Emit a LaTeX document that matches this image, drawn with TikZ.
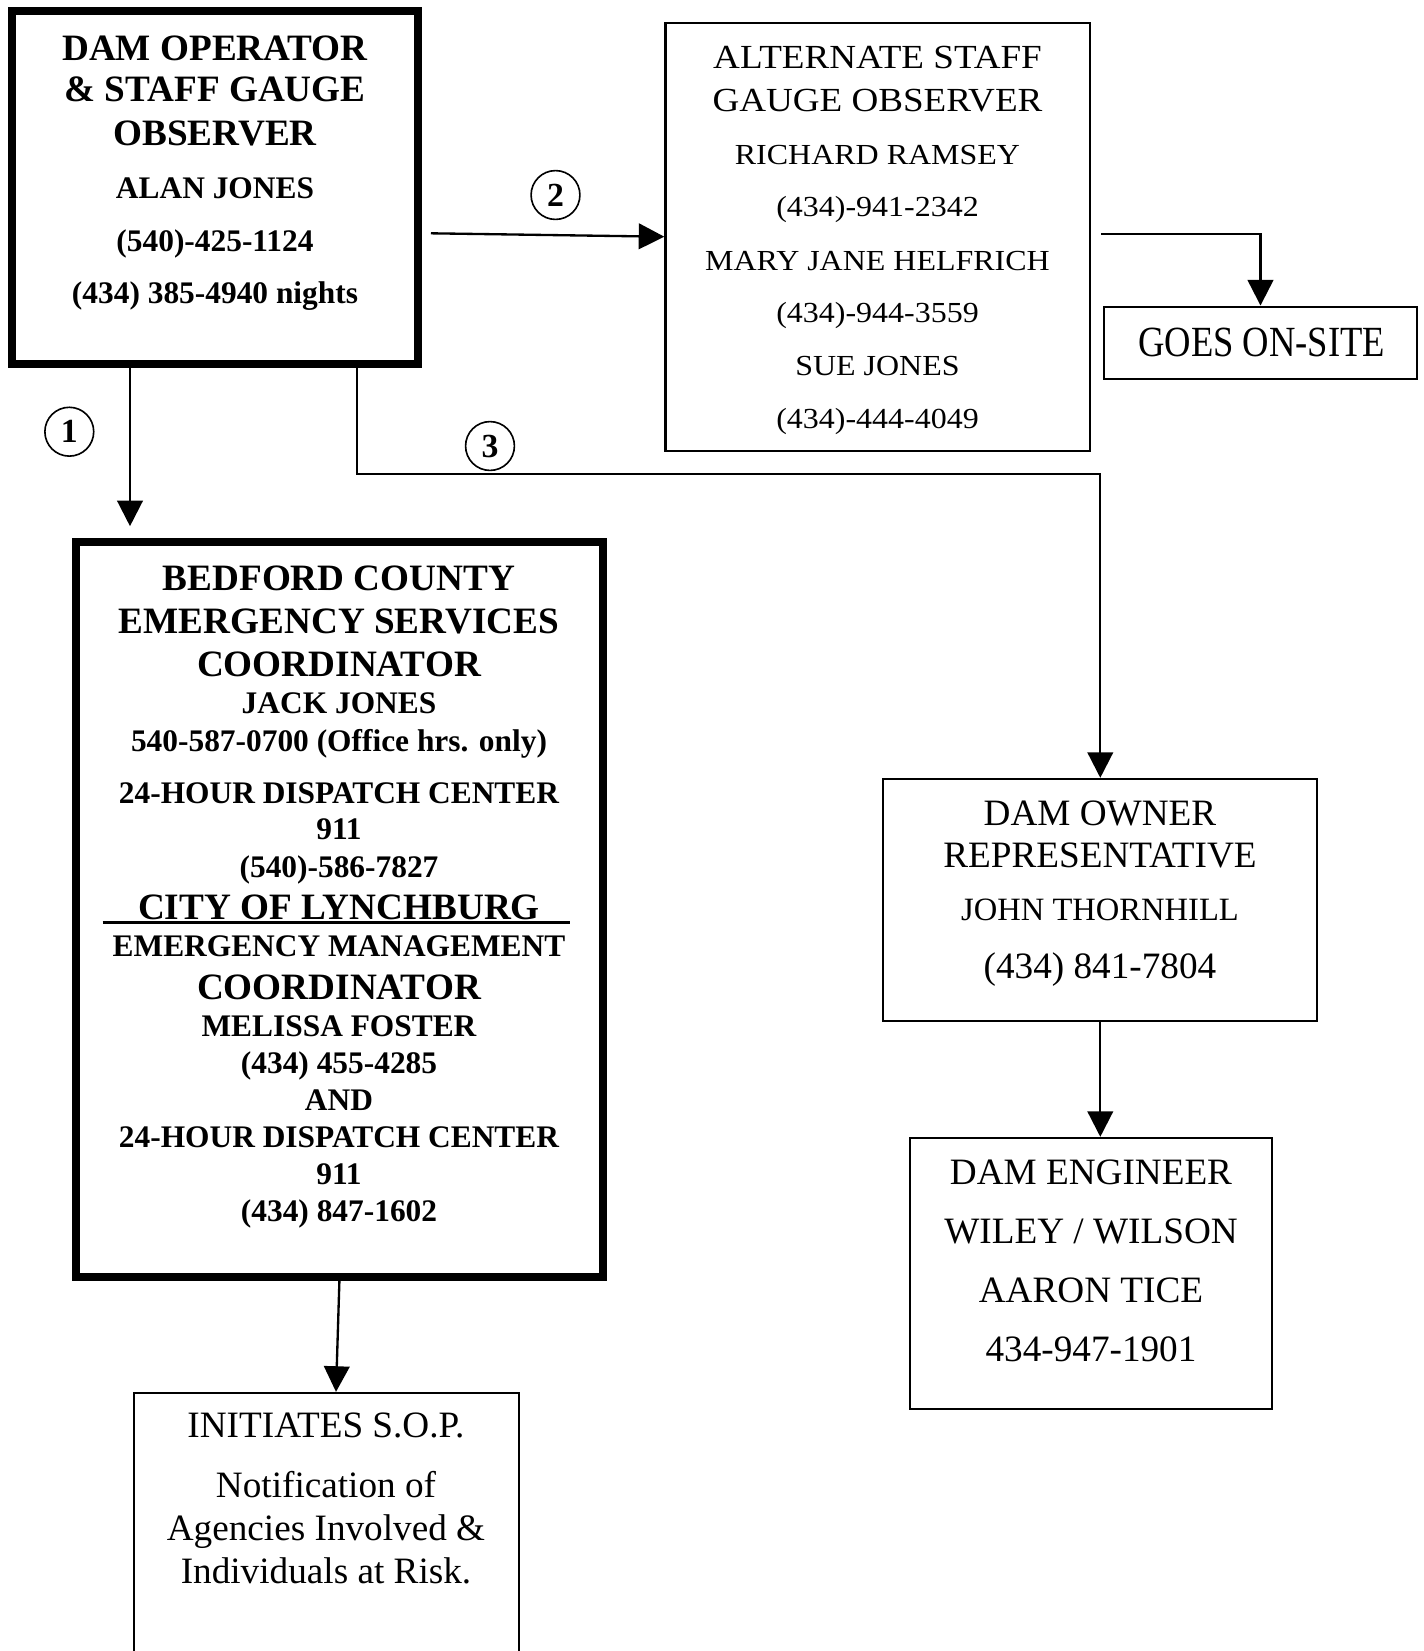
\documentclass[tikz,border=0pt]{standalone}
\usepackage{fontspec}
\setmainfont{Liberation Serif}
\newfontfamily\altserif[FakeStretch=1.1]{Liberation Serif}
\newfontfamily\siteserif[FakeStretch=0.85]{Liberation Serif}
\usetikzlibrary{arrows.meta,fit,calc}

\tikzset{every picture/.style={line width=0.75pt}}
\tikzset{
	heavy box/.style={draw, line width=3.6pt, inner sep=0pt},
	light box/.style={draw, line width=1pt, inner sep=0pt},
	call no/.style={draw, circle, line width=0.7pt, minimum size=21pt, inner sep=0pt, font=\fontsize{14.5}{17}\selectfont\bfseries},
	arr/.style={-{Triangle[length=11pt,width=11pt]}, line width=1pt},
	title b/.style={anchor=base, font=\fontsize{16}{19}\selectfont\bfseries},
	line b/.style={anchor=base, font=\fontsize{13.5}{16}\selectfont\bfseries},
	title r/.style={anchor=base, font=\fontsize{16}{19}\selectfont},
	line r/.style={anchor=base, font=\fontsize{14}{17}\selectfont},
	alt title/.style={anchor=base, font=\altserif\fontsize{14.5}{17}\selectfont},
	alt line/.style={anchor=base, font=\altserif\fontsize{12.5}{15}\selectfont},
	site text/.style={anchor=base, font=\siteserif\fontsize{18.5}{22}\selectfont}}

\begin{document}
\begin{tikzpicture}[x=0.43pt,y=0.43pt,yscale=-1,xscale=1]
	\useasboundingbox (0,0) rectangle (1424,1651);
	\clip (0,0) rectangle (1424,1651);

	%Shape: Rectangle [operator]
	\node [heavy box, fit={(11.7,11.2) (417.8,364.2)}] (operator) {};
	%Shape: Rectangle [alternate]
	\node [light box, fit={(665.5,22.7) (1090,450.7)}] (alternate) {};
	%Shape: Rectangle [on-site]
	\node [light box, fit={(1104.3,306.7) (1416.7,379.3)}] (onsite) {};
	%Shape: Rectangle [bedford]
	\node [heavy box, fit={(75.8,542) (603,1277)}] (bedford) {};
	%Shape: Rectangle [owner]
	\node [light box, fit={(883.3,779) (1317.3,1021.3)}] (owner) {};
	%Shape: Rectangle [engineer]
	\node [light box, fit={(910,1138) (1272.3,1409)}] (engineer) {};
	%Shape: Rectangle [s.o.p.]
	\node [light box, fit={(134.3,1393) (518.7,1720)}] (sop) {};

	%Circles
	\node [call no] (n1) at (69.3,431.7) {1};
	\node [call no] (n2) at (555.5,195) {2};
	\node [call no] (n3) at (490,446) {3};

	%Straight Lines [1]
	\coordinate (drop1) at (130,0);
	\draw [arr, shorten >=5pt] (drop1 |- operator.south) -- (drop1 |- bedford.north);
	%Straight Lines [2]
	\draw [arr] ($(operator.east)+(9,45.6)$) -- (alternate.west);
	%Straight Lines [3]
	\coordinate (bend3) at (356.7,474.3);
	\draw [arr] (bend3 |- operator.south) -- (bend3) -| (owner.north);
	%Straight Lines [on-site]
	\draw [arr] ($(alternate.east)+(10,-2.4)$) -| (onsite.north);
	%Straight Lines [engineer]
	\draw [arr] (owner.south) -- (owner.south |- engineer.north);
	%Straight Lines [s.o.p.]
	\draw [arr] (bedford.south) -- ($(sop.north)+(9.5,0)$);
	%Straight Lines [underline]
	\draw [line width=0.9pt] (102.7,922.5) -- (570,922.5);

	% Text Node
	\draw (215,60) node [title b] (op1) {DAM OPERATOR};
	\draw (215,101.7) node [title b] (op2) {\& STAFF GAUGE};
	\draw (215,145) node [title b] (op3) {OBSERVER};
	\draw (215,198.3) node [line b] (op4) {ALAN JONES};
	\draw (215,251.7) node [line b] (op5) {(540)-425-1124};
	\draw (215,303.5) node [line b] (op6) {(434) 385-4940 nights};

	% Text Node
	\draw (877.5,68.3) node [alt title] (alt1) {ALTERNATE STAFF};
	\draw (877.5,111.7) node [alt title] (alt2) {GAUGE OBSERVER};
	\draw (877.5,164) node [alt line] (alt3) {RICHARD RAMSEY};
	\draw (877.5,216) node [alt line] (alt4) {(434)-941-2342};
	\draw (877.5,270) node [alt line] (alt5) {MARY JANE HELFRICH};
	\draw (877.5,322.7) node [alt line] (alt6) {(434)-944-3559};
	\draw (877.5,375) node [alt line] (alt7) {SUE JONES};
	\draw (877.5,428.3) node [alt line] (alt8) {(434)-444-4049};

	% Text Node
	\draw (1261.7,356.5) node [site text] (site1) {GOES ON-SITE};

	% Text Node
	\draw (339,590.5) node [title b] (bed1) {BEDFORD COUNTY};
	\draw (339,633) node [title b] (bed2) {EMERGENCY SERVICES};
	\draw (339,676) node [title b] (bed3) {COORDINATOR};
	\draw (339,713) node [line b] (bed4) {JACK JONES};
	\draw (339,751) node [line b] (bed5) {540-587-0700 (Office hrs. only)};
	\draw (339,803.5) node [line b] (bed6) {24-HOUR DISPATCH CENTER};
	\draw (339,839.5) node [line b] (bed7) {911};
	\draw (339,877.3) node [line b] (bed8) {(540)-586-7827};
	\draw (339,919) node [title b] (bed9) {CITY OF LYNCHBURG};
	\draw (339,956.3) node [line b] (bed10) {EMERGENCY MANAGEMENT};
	\draw (339,999.3) node [title b] (bed11) {COORDINATOR};
	\draw (339,1036.3) node [line b] (bed12) {MELISSA FOSTER};
	\draw (339,1073.2) node [line b] (bed13) {(434) 455-4285};
	\draw (339,1110) node [line b] (bed14) {AND};
	\draw (339,1147) node [line b] (bed15) {24-HOUR DISPATCH CENTER};
	\draw (339,1184.6) node [line b] (bed16) {911};
	\draw (339,1221.7) node [line b] (bed17) {(434) 847-1602};

	% Text Node
	\draw (1100,825) node [title r] (own1) {DAM OWNER};
	\draw (1100,867) node [title r] (own2) {REPRESENTATIVE};
	\draw (1100,920.5) node [line r] (own3) {JOHN THORNHILL};
	\draw (1100,978.5) node [title r] (own4) {(434) 841-7804};

	% Text Node
	\draw (1091,1184) node [title r] (eng1) {DAM ENGINEER};
	\draw (1091,1243) node [title r] (eng2) {WILEY / WILSON};
	\draw (1091,1302) node [title r] (eng3) {AARON TICE};
	\draw (1091,1361) node [title r] (eng4) {434-947-1901};

	% Text Node
	\draw (326,1437.5) node [title r] (sop1) {INITIATES S.O.P.};
	\draw (326,1497) node [title r] (sop2) {Notification of};
	\draw (326,1540) node [title r] (sop3) {Agencies Involved \&};
	\draw (326,1583.5) node [title r] (sop4) {Individuals at Risk.};

\end{tikzpicture}
\end{document}
